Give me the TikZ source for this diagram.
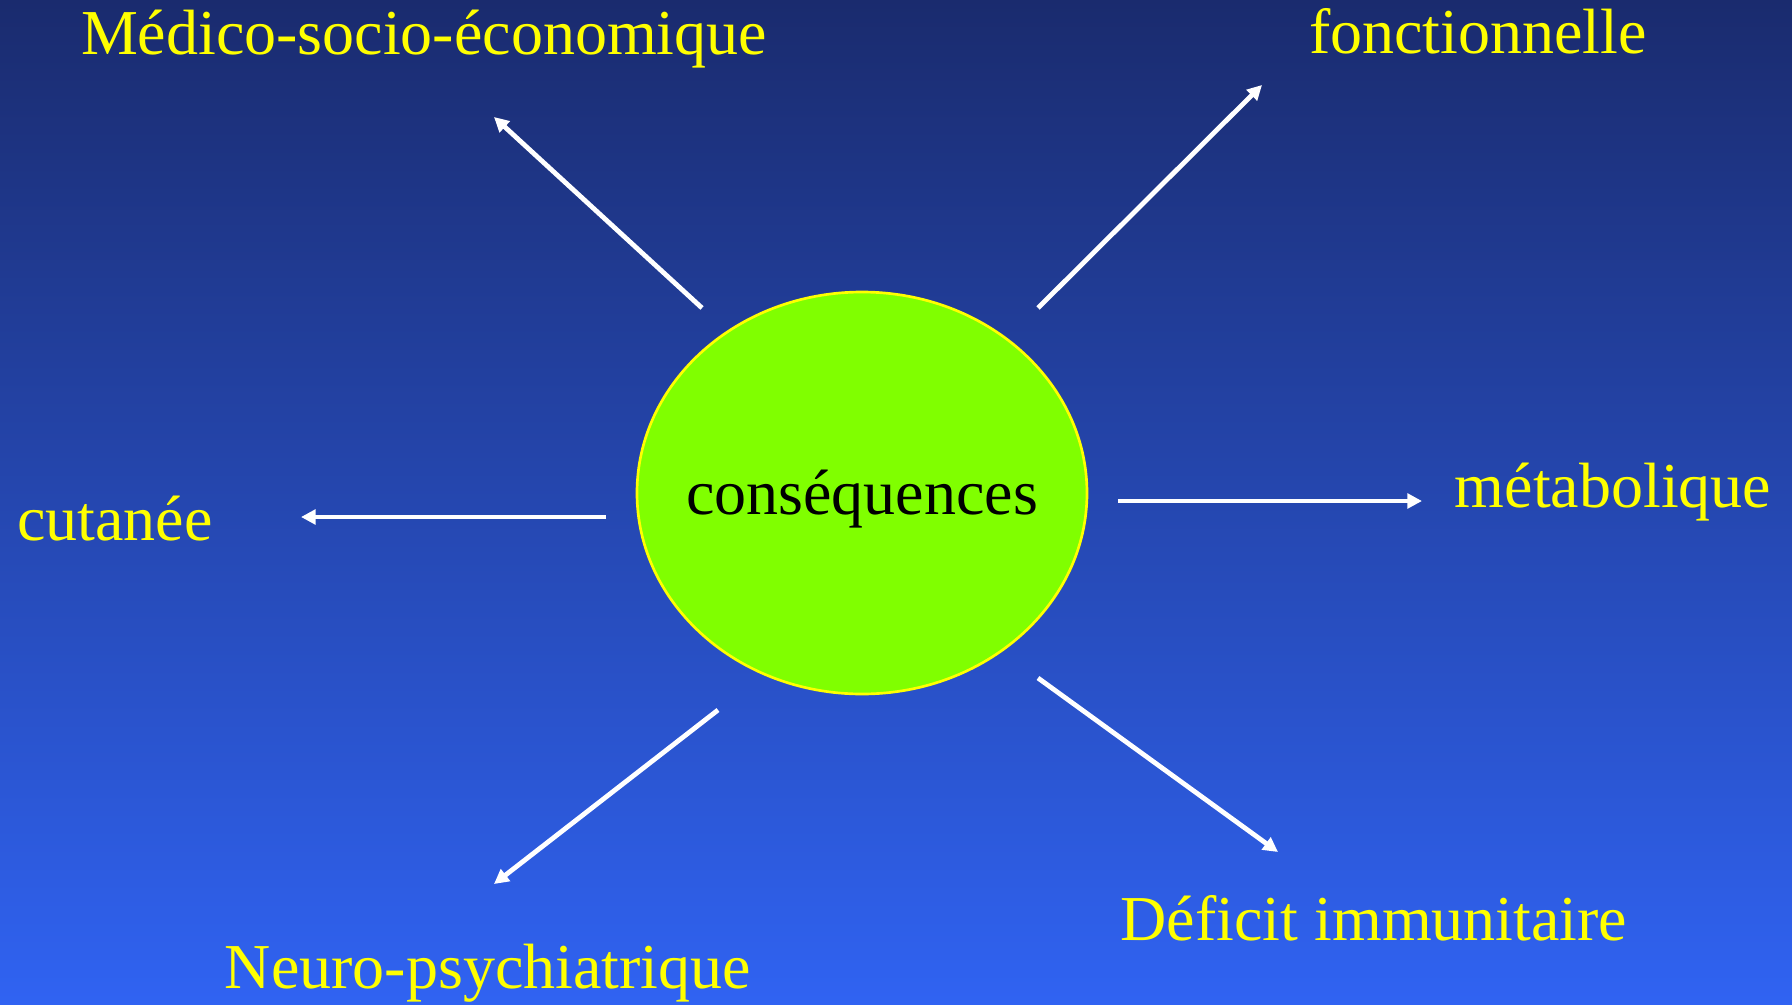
\documentclass[tikz,border=0pt]{standalone}
\usepackage{fontspec}
\setmainfont{Liberation Serif}
\usetikzlibrary{arrows.meta}

\definecolor{bgtop}{RGB}{26,43,110}
\definecolor{bgbot}{RGB}{48,99,242}
\definecolor{lime}{RGB}{128,255,0}
\definecolor{labelyellow}{RGB}{255,255,0}

\tikzset{every picture/.style={line width=0.75pt}}
\tikzset{
  lbl/.style={anchor=base,inner sep=0pt,text=labelyellow,font=\fontsize{48}{58}\selectfont},
  ray/.style={draw=white,line width=3.6pt,-{Triangle[length=11pt,width=11pt]}}
}

\begin{document}
\begin{tikzpicture}[x=0.75pt,y=0.75pt,yscale=-1,xscale=1]
\useasboundingbox (0,0) rectangle (1792,1004);

%Background (yscale=-1 flips the shading, hence the swapped colours)
\shade[top color=bgtop,bottom color=bgbot,shading angle=0] (0,0) rectangle (1792,1004);

%Ellipse
\draw[draw=labelyellow,line width=2pt,fill=lime] (862,493) ellipse (225 and 201);
\node (cons) at (862,514) [anchor=base,inner sep=0pt,font=\fontsize{48}{58}\selectfont] {conséquences};

% Text Node
\node (medico) at (424,54) [lbl] {Médico-socio-économique};
% Text Node
\node (fonct) at (1478,53) [lbl] {fonctionnelle};
% Text Node
\node (metab) at (1613,507) [lbl] {métabolique};
% Text Node
\node (cutan) at (115,540) [lbl] {cutanée};
% Text Node
\node (neuro) at (488,988) [lbl] {Neuro-psychiatrique};
% Text Node
\node (defic) at (1374,940) [lbl] {Déficit immunitaire};

%Straight Lines
\coordinate (a1) at (702,308);  \coordinate (b1) at (494,117);
\coordinate (a2) at (1038,308); \coordinate (b2) at (1262,85);
\coordinate (a3) at (1118,501); \coordinate (b3) at (1422,501);
\coordinate (a4) at (606,517);  \coordinate (b4) at (301,517);
\coordinate (a5) at (718,710);  \coordinate (b5) at (494,884);
\coordinate (a6) at (1038,678); \coordinate (b6) at (1278,852);
\foreach \i in {1,...,6}
  \draw[ray] (a\i) -- (b\i);
\end{tikzpicture}
\end{document}
